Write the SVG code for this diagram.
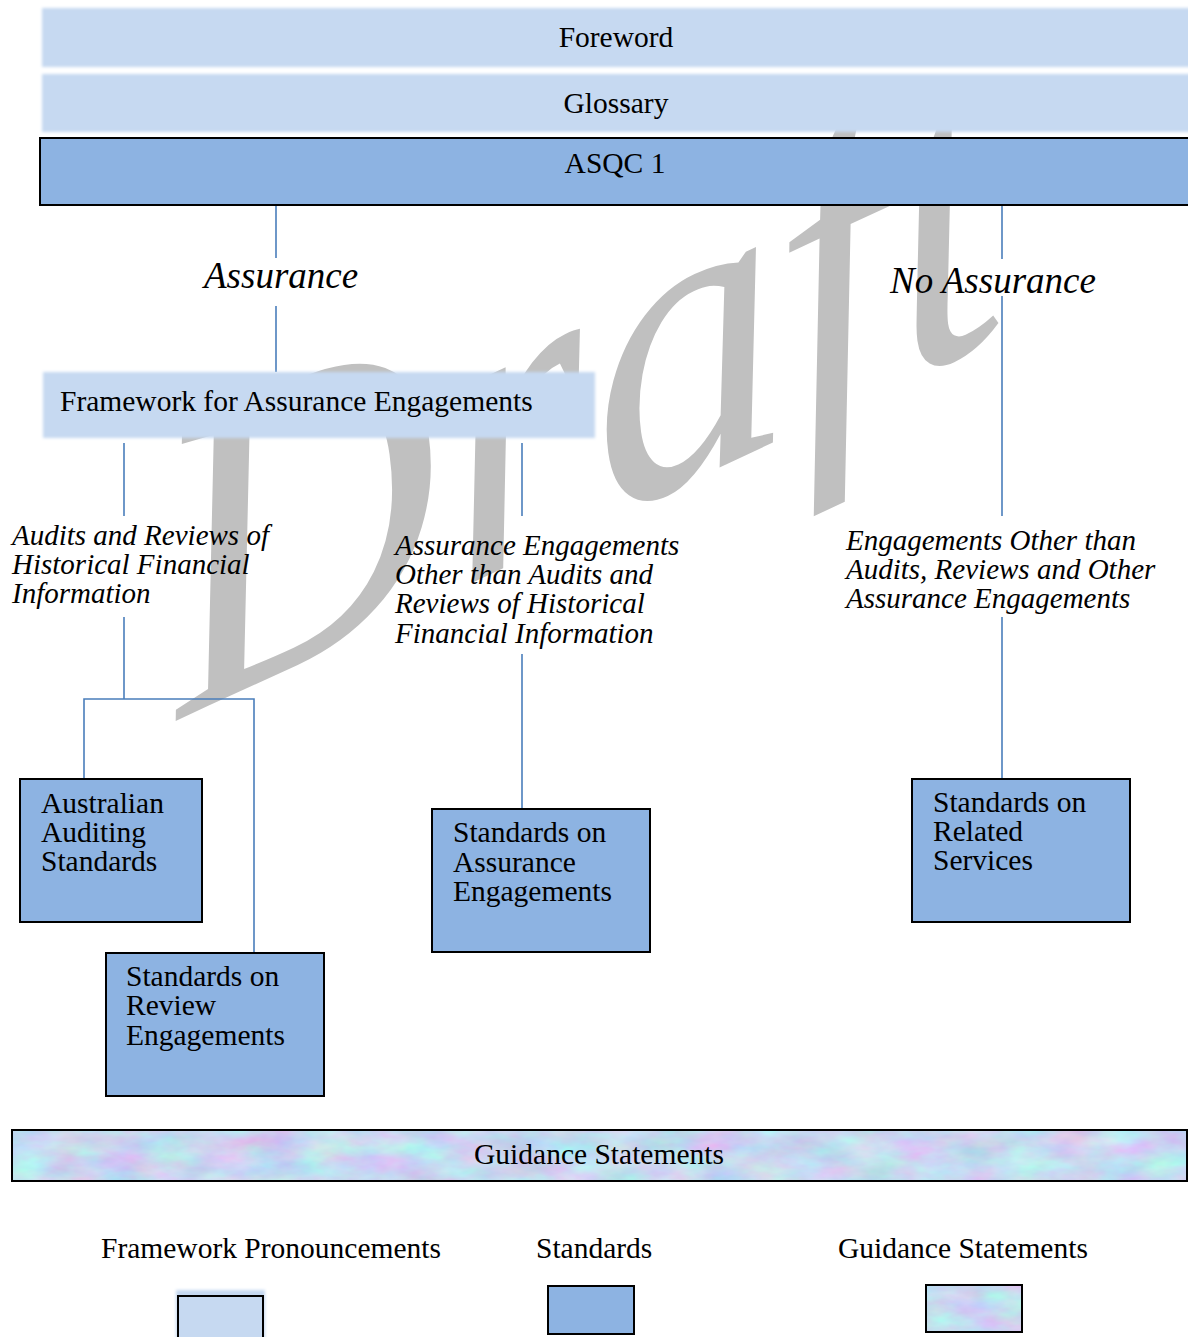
<svg xmlns="http://www.w3.org/2000/svg" width="1188" height="1337" viewBox="0 0 1188 1337">
  <defs>
    <filter id="soft" x="-5%" y="-20%" width="110%" height="140%">
      <feGaussianBlur stdDeviation="1.6"/>
    </filter>
    <filter id="marble" x="0" y="0" width="100%" height="100%" color-interpolation-filters="sRGB">
      <feTurbulence type="fractalNoise" baseFrequency="0.02 0.045" numOctaves="4" seed="7" result="n"/>
      <feColorMatrix in="n" type="matrix" values="0.32 0 0 0 0.62  -0.18 0.26 0 0 0.81  0 0 0.12 0 0.88  0 0 0 0 1"/>
    </filter>
    <style>
      .t { font-size: 29.5px; fill: #000; }
      .i { font-size: 29px; font-style: italic; fill: #000; }
      .big { font-size: 37px; }
      .light { fill: #c6d9f1; }
      .std { fill: #8db3e2; stroke: #000; stroke-width: 2; }
      .frame { fill: none; stroke: #000; stroke-width: 2; }
      .conn line, .conn polyline { stroke: #4a7ebb; stroke-width: 1.6; fill: none; }
    </style>
  </defs>
  <rect width="1188" height="1337" fill="#fff"/>

  <g font-family="Liberation Serif, Times New Roman, serif">
  <!-- watermark -->
  <text id="watermark" x="0" y="0" transform="translate(180,719) rotate(-25) skewX(-17) scale(1.07,1)" font-style="italic" font-size="395" fill="#c0c0c0">Draft</text>

  <g class="conn" id="connectors">
    <line x1="276" y1="205" x2="276" y2="258"/>
    <line x1="276" y1="306" x2="276" y2="372"/>
    <line x1="1002" y1="205" x2="1002" y2="259"/>
    <line x1="1002" y1="296" x2="1002" y2="516"/>
    <line x1="1002" y1="617" x2="1002" y2="779"/>
    <line x1="124" y1="443" x2="124" y2="516"/>
    <line x1="124" y1="617" x2="124" y2="699"/>
    <polyline points="84,779 84,699 254,699 254,953"/>
    <line x1="522" y1="443" x2="522" y2="516"/>
    <line x1="522" y1="654" x2="522" y2="809"/>
  </g>

  <g id="foreword">
    <rect class="light" x="42" y="8" width="1150" height="59" filter="url(#soft)"/>
    <text class="t" x="616" y="47" text-anchor="middle">Foreword</text>
  </g>
  <g id="glossary">
    <rect class="light" x="42" y="74" width="1150" height="58" filter="url(#soft)"/>
    <text class="t" x="616" y="113" text-anchor="middle">Glossary</text>
  </g>
  <g id="asqc1">
    <rect class="std" x="40" y="138" width="1152" height="67"/>
    <text class="t" x="615" y="173" text-anchor="middle">ASQC 1</text>
  </g>

  <g id="label-assurance">
    <text class="i big" x="204" y="288">Assurance</text>
  </g>
  <g id="label-no-assurance">
    <text class="i big" x="890" y="293">No Assurance</text>
  </g>

  <g id="framework">
    <rect class="light" x="43" y="372" width="552" height="66" filter="url(#soft)"/>
    <text class="t" x="60" y="411">Framework for Assurance Engagements</text>
  </g>

  <g id="label-audits">
    <text class="i" x="12" y="545">Audits and Reviews of</text>
    <text class="i" x="12" y="574">Historical Financial</text>
    <text class="i" x="12" y="603">Information</text>
  </g>
  <g id="label-other-assurance">
    <text class="i" x="395" y="555">Assurance Engagements</text>
    <text class="i" x="395" y="584">Other than Audits and</text>
    <text class="i" x="395" y="613">Reviews of Historical</text>
    <text class="i" x="395" y="643">Financial Information</text>
  </g>
  <g id="label-other-engagements">
    <text class="i" x="846" y="550">Engagements Other than</text>
    <text class="i" x="846" y="579">Audits, Reviews and Other</text>
    <text class="i" x="846" y="608">Assurance Engagements</text>
  </g>

  <g id="aas">
    <rect class="std" x="20" y="779" width="182" height="143"/>
    <text class="t" x="41" y="813">Australian</text>
    <text class="t" x="41" y="842">Auditing</text>
    <text class="t" x="41" y="871">Standards</text>
  </g>
  <g id="sre">
    <rect class="std" x="106" y="953" width="218" height="143"/>
    <text class="t" x="126" y="986">Standards on</text>
    <text class="t" x="126" y="1015">Review</text>
    <text class="t" x="126" y="1045">Engagements</text>
  </g>
  <g id="sae">
    <rect class="std" x="432" y="809" width="218" height="143"/>
    <text class="t" x="453" y="842">Standards on</text>
    <text class="t" x="453" y="872">Assurance</text>
    <text class="t" x="453" y="901">Engagements</text>
  </g>
  <g id="srs">
    <rect class="std" x="912" y="779" width="218" height="143"/>
    <text class="t" x="933" y="812">Standards on</text>
    <text class="t" x="933" y="841">Related</text>
    <text class="t" x="933" y="870">Services</text>
  </g>

  <g id="guidance">
    <rect x="12" y="1130" width="1175" height="51" fill="#c8d6f2" filter="url(#marble)"/>
    <rect class="frame" x="12" y="1130" width="1175" height="51"/>
    <text class="t" x="599" y="1164" text-anchor="middle">Guidance Statements</text>
  </g>

  <g id="legend">
    <text class="t" x="101" y="1258">Framework Pronouncements</text>
    <text class="t" x="536" y="1258">Standards</text>
    <text class="t" x="838" y="1258">Guidance Statements</text>
    <rect class="light" x="176" y="1290" width="89" height="50" filter="url(#soft)"/>
    <rect class="light" x="178" y="1296" width="85" height="44" stroke="#000" stroke-width="2"/>
    <rect class="std" x="548" y="1286" width="86" height="48"/>
    <rect x="926" y="1285" width="96" height="47" fill="#c8d6f2" filter="url(#marble)"/>
    <rect class="frame" x="926" y="1285" width="96" height="47"/>
  </g>
  </g>
</svg>
